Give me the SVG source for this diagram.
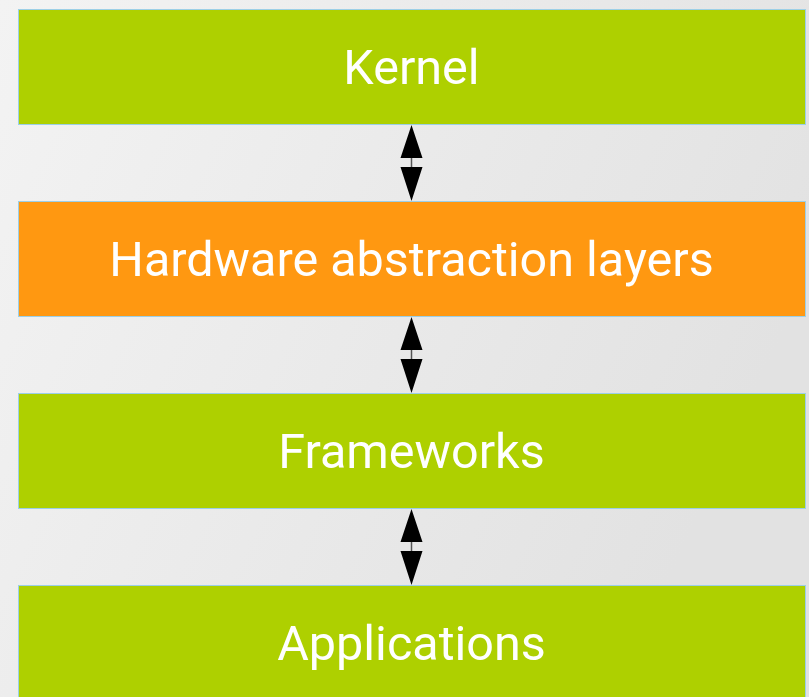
<svg xmlns="http://www.w3.org/2000/svg" width="809" height="697" viewBox="0 0 809 697">
  <defs>
    <linearGradient id="bg" x1="0" y1="0" x2="1" y2="0.4">
      <stop offset="0" stop-color="#f3f3f3"/>
      <stop offset="1" stop-color="#e2e2e2"/>
    </linearGradient>
    <!-- double-headed connector: two solid heads joined by a short stem -->
    <g id="double-arrow">
      <line x1="0" y1="32" x2="0" y2="44" stroke="#555" stroke-width="1.5"/>
      <path d="M-11,33 L0,0 L11,33 Z M-11,42 L11,42 L0,76 Z" fill="#000"/>
    </g>
    <style>
      .layer rect { stroke: #9ccfe6; stroke-width: 1; }
      .green rect { fill: #aed000; }
      .orange rect { fill: #ff9811; }
      .layer text { fill: #ffffff; font-family: Roboto, "Liberation Sans", sans-serif; font-size: 48.5px; text-anchor: middle; }
    </style>
  </defs>
  <rect x="0" y="0" width="809" height="697" fill="url(#bg)"/>

  <g id="kernel" class="layer green">
    <rect x="18.5" y="9.5" width="787" height="115"/>
    <text x="411.5" y="84">Kernel</text>
  </g>
  <g id="hal" class="layer orange">
    <rect x="18.5" y="201.5" width="787" height="115"/>
    <text x="411.5" y="276">Hardware abstraction layers</text>
  </g>
  <g id="frameworks" class="layer green">
    <rect x="18.5" y="393.5" width="787" height="115"/>
    <text x="411.5" y="468">Frameworks</text>
  </g>
  <g id="applications" class="layer green">
    <rect x="18.5" y="585.5" width="787" height="130"/>
    <text x="411.5" y="660">Applications</text>
  </g>

  <g id="connectors">
    <use href="#double-arrow" x="411.5" y="125"/>
    <use href="#double-arrow" x="411.5" y="317"/>
    <use href="#double-arrow" x="411.5" y="509"/>
  </g>
</svg>
